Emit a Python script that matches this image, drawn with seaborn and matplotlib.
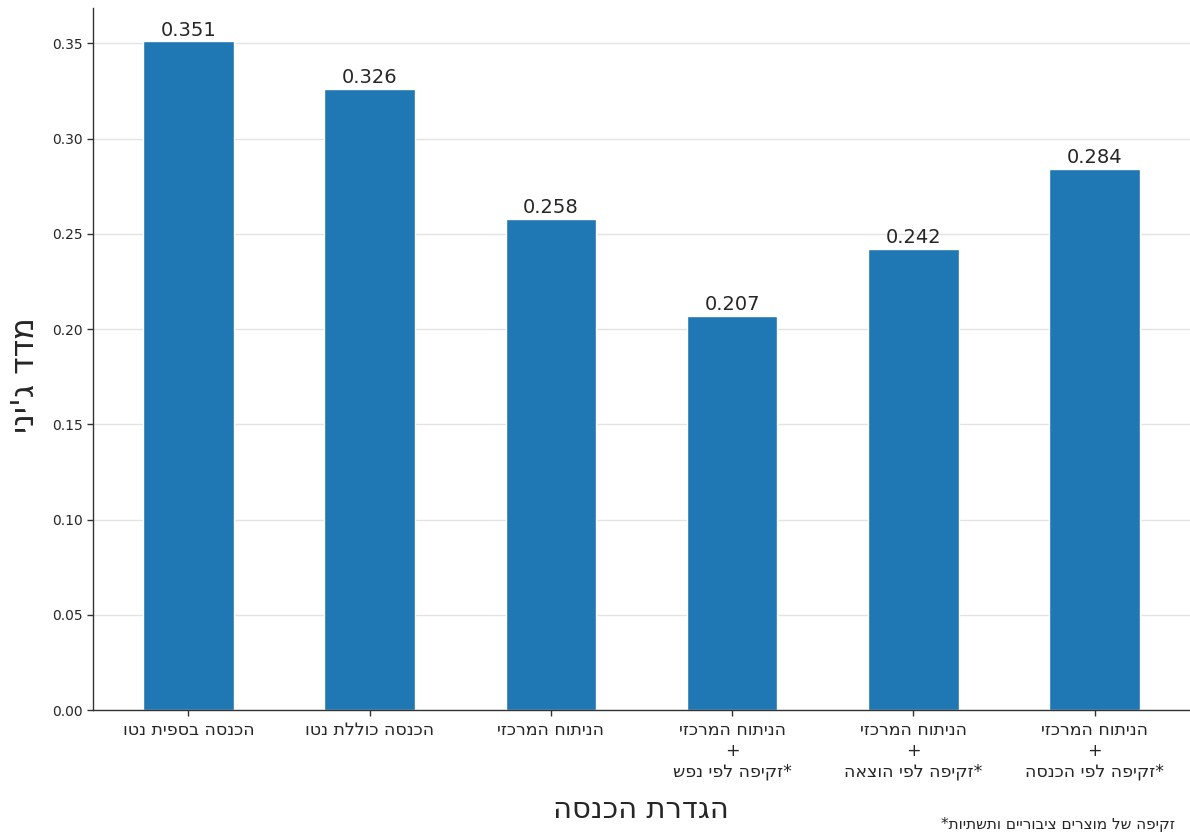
import numpy as np
import pandas as pd
import matplotlib
matplotlib.use('Agg')
import matplotlib.pyplot as plt
import seaborn as sns

# Gini index by income definition (logical Hebrew text, flipped for display below)
categories = [
    'הכנסה בספית נטו',
    'הכנסה כוללת נטו',
    'הניתוח המרכזי',
    'הניתוח המרכזי\n+\n*זקיפה לפי נפש',
    'הניתוח המרכזי\n+\n*זקיפה לפי הוצאה',
    'הניתוח המרכזי\n+\n*זקיפה לפי הכנסה',
]
gini = [0.351, 0.326, 0.258, 0.207, 0.242, 0.284]
yticks = [0.00, 0.05, 0.10, 0.15, 0.20, 0.25, 0.30, 0.35]

x_title = 'הגדרת הכנסה'
y_title = "מדד ג'יני"
footnote = 'זקיפה של מוצרים ציבוריים ותשתיות*'


def rtl(s):
    '''matplotlib has no bidi support, so flip every line for right-to-left display'''
    return '\n'.join(line[::-1] for line in s.split('\n'))


sns.set_style('white')
plt.rcParams['font.family'] = ['DejaVu Sans']

df = pd.DataFrame({'label': [rtl(c) for c in categories], 'gini': gini})

fig = plt.figure(figsize=(11.9, 8.33), dpi=100)
ax = fig.add_axes([93 / 1190, 1 - 710 / 833, 1 - 93 / 1190, (710 - 8) / 833])

sns.barplot(data=df, x='label', y='gini', color='#1f77b4', saturation=1,
            width=0.5, ax=ax)

# value labels above the bars
for i, v in enumerate(gini):
    ax.text(i, v + 0.001, f'{v:.3f}', ha='center', va='bottom', fontsize=14)

ax.set_xlim(-0.526, 5.526)
ax.set_ylim(0, max(gini) * 1.05)
ax.set_yticks(yticks)
ax.set_yticklabels([f'{t:.2f}' for t in yticks], fontsize=10)
ax.tick_params(axis='x', labelsize=12.5, length=4, width=1, pad=4)
ax.tick_params(axis='y', length=4, width=1)
ax.tick_params(axis='both', bottom=True, left=True, color='#333333')

ax.grid(axis='y', color='#e3e3e3', linewidth=1)
ax.set_axisbelow(True)
for side in ['top', 'right']:
    ax.spines[side].set_visible(False)
for side in ['left', 'bottom']:
    ax.spines[side].set_color('#333333')
    ax.spines[side].set_linewidth(1)

ax.set_xlabel('')
ax.set_ylabel('')
fig.text(641 / 1190, 1 - 810 / 833, rtl(x_title), ha='center', va='center', fontsize=21)
fig.text(26 / 1190, 1 - 375 / 833, rtl(y_title), ha='center', va='center',
         rotation=90, fontsize=23)
fig.text(1175 / 1190, 1 - 824 / 833, rtl(footnote), ha='right', va='center', fontsize=11)

fig.savefig('out.png', dpi=100)
